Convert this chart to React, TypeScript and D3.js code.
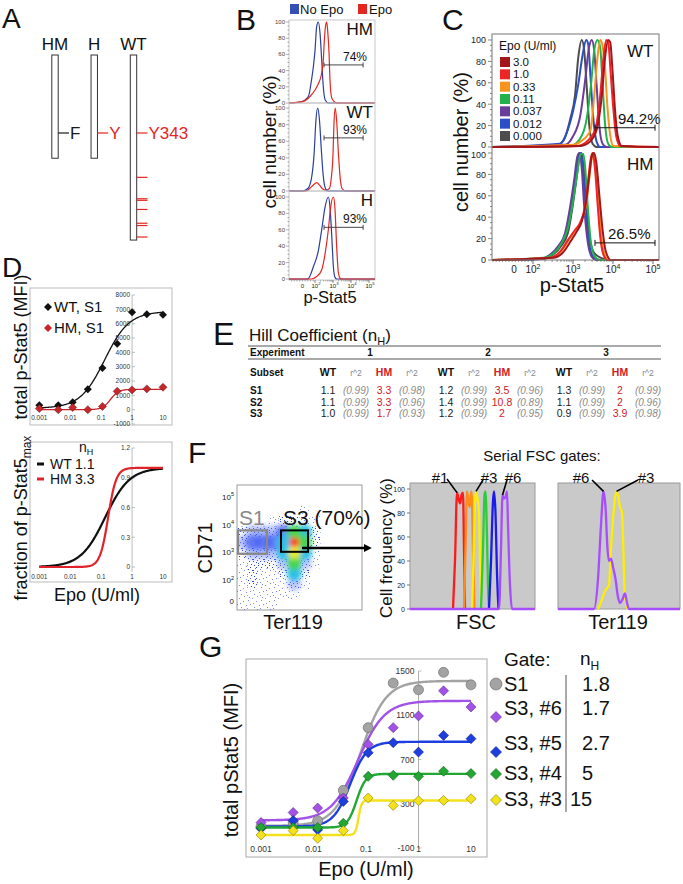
import React from "react";
import * as d3 from "d3";

const FONT = "'Liberation Sans', Arial, Helvetica, sans-serif";

// ---------- A: receptor constructs ----------
const aNames = ["HM", "H", "WT"];
const aEnds = [376, 376, 483];
const aSites = ["F", "Y", "Y343"];
const aSiteColors = ["#1a1a1a", "#e3261f", "#e3261f"];
const wtTyrosines = [401, 429, 431, 443, 461, 464, 479];

// ---------- B: histograms, x = log10(p-Stat5) ----------
const bNoEpoHM = [[1.17, 1], [1.63, 8], [1.81, 29], [1.91, 45], [2.0, 65], [2.09, 94], [2.18, 100], [2.28, 86], [2.37, 53], [2.46, 20], [2.56, 4], [2.74, 0]];
const bEpoHM = [[1.35, 2], [1.72, 8], [2.0, 16], [2.19, 24], [2.37, 37], [2.46, 53], [2.52, 78], [2.59, 96], [2.65, 100], [2.7, 90], [2.78, 61], [2.83, 29], [2.93, 6], [3.11, 1], [3.3, 0]];
const bNoEpoWT = [[1.3, 0], [1.6, 3], [1.8, 15], [1.95, 45], [2.05, 85], [2.15, 100], [2.25, 85], [2.35, 50], [2.45, 20], [2.55, 5], [2.7, 0]];
const bEpoWT = [[1.5, 0], [1.8, 5], [2.0, 9], [2.1, 10], [2.25, 7], [2.4, 3], [2.6, 1], [2.8, 3], [2.9, 15], [3.0, 45], [3.05, 80], [3.12, 100], [3.2, 85], [3.3, 45], [3.4, 15], [3.5, 3], [3.7, 0]];
const bNoEpoH = [[1.6, 0], [1.91, 15], [2.19, 35], [2.37, 60], [2.56, 88], [2.74, 100], [2.83, 88], [2.93, 52], [3.02, 15], [3.11, 2], [3.2, 0]];
const bEpoH = [[1.8, 0], [2.09, 3], [2.37, 11], [2.56, 31], [2.74, 60], [2.87, 88], [3.02, 100], [3.11, 85], [3.2, 40], [3.3, 7], [3.39, 1], [3.5, 0]];
const bGates = [47, 64, 63];
const bGateLabels = ["74%", "93%", "93%"];
const bNames = ["HM", "WT", "H"];

// ---------- C: dose series ----------
const cDoses = ["3.0", "1.0", "0.33", "0.11", "0.037", "0.012", "0.000"];
const cColors = ["#a3171b", "#ee2524", "#f7941d", "#22b24c", "#6a3d9a", "#2c4fc8", "#4d4d4d"];
const cWT = [
  [[3.17, 1], [3.42, 5], [3.59, 16], [3.72, 48], [3.8, 83], [3.88, 100], [3.93, 98], [3.99, 70], [4.05, 35], [4.12, 10], [4.22, 1]],
  [[3.09, 1], [3.34, 5], [3.55, 16], [3.68, 48], [3.76, 83], [3.83, 100], [3.88, 98], [3.94, 70], [4.01, 35], [4.08, 10], [4.18, 1]],
  [[3.01, 2], [3.22, 6], [3.34, 10], [3.44, 16], [3.53, 48], [3.61, 83], [3.68, 100], [3.73, 96], [3.8, 74], [3.86, 38], [3.93, 11], [4.01, 1]],
  [[2.93, 1], [3.18, 8], [3.34, 26], [3.45, 58], [3.53, 90], [3.61, 100], [3.68, 93], [3.74, 58], [3.8, 22], [3.88, 3], [3.97, 0]],
  [[2.8, 2], [3.0, 10], [3.18, 29], [3.3, 61], [3.4, 93], [3.47, 100], [3.53, 90], [3.59, 58], [3.66, 19], [3.74, 3], [3.84, 0]],
  [[2.68, 3], [2.84, 13], [3.01, 35], [3.13, 58], [3.24, 86], [3.33, 100], [3.38, 96], [3.44, 64], [3.51, 26], [3.59, 5], [3.68, 0]],
  [[2.55, 1], [2.76, 6], [2.93, 26], [3.05, 48], [3.13, 83], [3.22, 100], [3.28, 90], [3.34, 58], [3.41, 19], [3.49, 3], [3.59, 0]],
];
const cHM = [
  [[2.5, 2], [2.75, 7], [2.95, 18], [3.1, 27], [3.22, 36], [3.33, 55], [3.41, 80], [3.47, 97], [3.52, 100], [3.58, 92], [3.66, 60], [3.74, 28], [3.82, 8], [3.95, 0]],
  [[2.43, 2], [2.68, 8], [2.88, 19], [3.05, 28], [3.18, 35], [3.3, 50], [3.38, 75], [3.44, 94], [3.49, 100], [3.55, 85], [3.62, 50], [3.68, 22], [3.76, 5], [3.86, 0]],
  [[2.45, 2], [2.7, 8], [2.9, 19], [3.07, 28], [3.2, 36], [3.33, 52], [3.41, 77], [3.47, 95], [3.52, 100], [3.58, 85], [3.65, 50], [3.71, 22], [3.79, 5], [3.9, 0]],
  [[2.26, 2], [2.51, 6], [2.72, 16], [2.88, 31], [3.01, 57], [3.11, 82], [3.19, 99], [3.26, 99], [3.32, 79], [3.38, 44], [3.45, 16], [3.55, 3], [3.68, 0]],
  [[2.18, 1], [2.43, 5], [2.63, 13], [2.8, 25], [2.93, 50], [3.03, 75], [3.11, 97], [3.16, 100], [3.22, 85], [3.28, 50], [3.36, 19], [3.47, 3], [3.59, 0]],
  [[2.2, 1], [2.45, 5], [2.66, 13], [2.83, 26], [2.96, 52], [3.06, 78], [3.13, 97], [3.19, 100], [3.25, 84], [3.31, 48], [3.39, 18], [3.5, 3], [3.62, 0]],
  [[2.25, 1], [2.5, 5], [2.7, 13], [2.87, 25], [2.99, 50], [3.09, 77], [3.16, 96], [3.21, 100], [3.27, 85], [3.33, 52], [3.41, 22], [3.52, 7], [3.7, 2], [3.85, 0]],
];
const cGates = [18, 16];
const cGateLabels = ["94.2%", "26.5%"];

// ---------- D: dose response ----------
const doses = [0.001, 0.0041, 0.012, 0.037, 0.11, 0.33, 1, 3, 10];
const dWT = [300, 300, 520, 1420, 2900, 4600, 6800, 6650, 6620];
const dHM = [80, 0, 150, 0, 220, 1280, 1380, 1450, 1560];
const dFitWT = { base: 100, top: 6850, ec50: 0.13, n: 1.1 };
const dFitHM = { base: 0, top: 1420, ec50: 0.2, n: 3.3 };
const dFracWT = { base: 0, top: 1, ec50: 0.135, n: 1.1 };
const dFracHM = { base: 0, top: 1, ec50: 0.168, n: 3.3 };

// ---------- E: Hill coefficient table ----------
const eExperiments = ["1", "2", "3"];
const eSubsets = ["S1", "S2", "S3"];
const eWT = [["1.1", "1.2", "1.3"], ["1.1", "1.4", "1.1"], ["1.0", "1.2", "0.9"]];
const eWTr2 = [["0.99", "0.99", "0.99"], ["0.99", "0.99", "0.99"], ["0.99", "0.99", "0.99"]];
const eHM = [["3.3", "3.5", "2"], ["3.3", "10.8", "2"], ["1.7", "2", "3.9"]];
const eHMr2 = [["0.98", "0.96", "0.99"], ["0.96", "0.89", "0.96"], ["0.93", "0.95", "0.98"]];

// ---------- F: gating ----------
const scatterDensity = [
  "000000000000",
  "000000000000",
  "000000100000",
  "000122110000",
  "233346520000",
  "344459620000",
  "233357510000",
  "122236310000",
  "121125200000",
  "121113100000",
  "111111000000",
  "111100000000",
];
const fscColors = ["#ff1a1a", "#ff8c1a", "#ffee00", "#2ecc3a", "#1a1aee", "#a64dff"];
const fscHists = [
  [[86, 0], [90, 40], [94, 97], [97, 92], [100, 88], [103, 95], [106, 97], [108, 50], [110, 0]],
  [[108, 0], [111, 50], [114, 98], [117, 90], [119, 85], [121, 93], [123, 98], [126, 50], [129, 0]],
  [[124, 0], [127, 40], [130, 90], [132, 98], [135, 92], [138, 80], [140, 40], [142, 0]],
  [[142, 0], [146, 50], [149, 95], [151, 98], [154, 60], [156, 20], [158, 0]],
  [[158, 0], [162, 40], [166, 90], [168, 98], [171, 80], [174, 30], [177, 0]],
  [[178, 0], [182, 50], [185, 95], [188, 92], [191, 93], [194, 98], [196, 70], [200, 20], [204, 0]],
];
const terYellow = [[80, 0], [88, 8], [94, 15], [102, 20], [106, 50], [111, 80], [117, 98], [121, 92], [124, 85], [128, 80], [131, 45], [133, 15], [137, 3], [140, 0]];
const terPurple = [[72, 0], [80, 25], [86, 70], [91, 98], [95, 85], [99, 50], [102, 40], [106, 42], [110, 35], [115, 25], [120, 10], [124, 5], [129, 8], [134, 13], [138, 5], [142, 0]];

// ---------- G: gated dose response ----------
const gNames = ["S1", "S3, #6", "S3, #5", "S3, #4", "S3, #3"];
const gNH = ["1.8", "1.7", "2.7", "5", "15"];
const gColors = ["#a3a3a3", "#a252e6", "#1d3fe0", "#22a832", "#f3e21b"];
const gStroke = ["#666", "#5a2a8a", "#0d1f80", "#0f5a18", "#8a7a00"];
const gValues = [
  [94, 129, 147, 421, 988, 1391, 1330, 1488, 1375],
  [130, 221, 261, 352, 836, 988, 1094, 1321, 1175],
  [79, 148, 64, 321, 761, 852, 767, 918, 888],
  [85, 85, 85, 124, 548, 557, 548, 594, 573],
  [18, 57, -12, 57, 352, 285, 327, 330, 345],
];
const gFits = [
  { base: 100, top: 1410, ec50: 0.078, n: 1.8 },
  { base: 150, top: 1230, ec50: 0.07, n: 1.7 },
  { base: 95, top: 860, ec50: 0.05, n: 2.7 },
  { base: 85, top: 570, ec50: 0.066, n: 5 },
  { base: 18, top: 330, ec50: 0.072, n: 15 },
];

const diamond = (r: number) => `M0,${-r}L${r},0L0,${r}L${-r},0Z`;

function hillPath(p: any, x: any, y: any) {
  const [l0, l1] = x.domain().map(Math.log10);
  const pts = d3.range(0, 201).map((i) => {
    const c = Math.pow(10, l0 + ((l1 - l0) * i) / 200);
    const f = Math.pow(c, p.n) / (Math.pow(p.ec50, p.n) + Math.pow(c, p.n));
    return [c, p.base + (p.top - p.base) * f];
  });
  return d3.line().x((d: any) => x(d[0])).y((d: any) => y(d[1]))(pts as any);
}

function histPath(data: number[][], x: any, y: any, pad = true) {
  const [a, b] = x.domain();
  const pts = pad ? [[a, 0], ...data, [b, 0]] : data;
  return d3.line().x((d: any) => x(d[0])).y((d: any) => y(d[1])).curve(d3.curveMonotoneX)(pts as any);
}

function T(props: any) {
  const { children, ...rest } = props;
  return (
    <text fontFamily={FONT} fill="#111" {...rest}>
      {children}
    </text>
  );
}

function Pow({ x, y, e, fs, anchor = "middle", fill = "#222" }: any) {
  return (
    <T x={x} y={y} fontSize={fs} textAnchor={anchor} fill={fill}>
      10
      <tspan dy={-fs * 0.45} fontSize={fs * 0.7}>
        {e}
      </tspan>
    </T>
  );
}

function PanelA() {
  const x = d3.scalePoint().domain(aNames).range([55, 133.5]);
  const y = d3.scaleLinear().domain([343, 479]).range([133, 237]);
  const top = 241;
  return (
    <g>
      <T x={2} y={28} fontSize={28}>A</T>
      {aNames.map((n, i) => {
        const cx = x(n) as number;
        return (
          <g key={n}>
            <T x={cx} y={50} fontSize={17} textAnchor="middle">{n}</T>
            <rect x={cx - 3.2} y={y(top)} width={6.4} height={y(aEnds[i]) - y(top)} fill="#fff" stroke="#333" strokeWidth={1} />
            <line x1={cx + 3.2} x2={cx + 14} y1={y(343)} y2={y(343)} stroke={aSiteColors[i]} strokeWidth={1.2} />
            <T x={cx + 15} y={y(343) + 6} fontSize={17} fill={aSiteColors[i]}>{aSites[i]}</T>
          </g>
        );
      })}
      {wtTyrosines.map((r) => (
        <line key={r} x1={(x("WT") as number) + 3.2} x2={(x("WT") as number) + 14} y1={y(r)} y2={y(r)} stroke="#e3261f" strokeWidth={1.2} />
      ))}
    </g>
  );
}

function PanelB() {
  const x = d3.scaleLinear().domain([0.556, 5.33]).range([289, 375]);
  const blue = "#2b3f9c";
  const red = "#e3261f";
  const subs = [
    { rng: [103, 22], top: 20, bottom: 103, series: [[blue, bNoEpoHM], [red, bEpoHM]] },
    { rng: [191, 108], top: 103, bottom: 191, series: [[red, bEpoWT], [blue, bNoEpoWT]] },
    { rng: [279, 197], top: 191, bottom: 280, series: [[blue, bNoEpoH], [red, bEpoH]] },
  ];
  const minor: number[] = [];
  for (let k = 2; k <= 4; k++) for (let m = 2; m <= 9; m++) minor.push(k + Math.log10(m));
  for (let v = 0.7; v < 2; v += 0.15) minor.push(v);
  return (
    <g>
      <T x={236} y={30} fontSize={30}>B</T>
      <rect x={290} y={4} width={9} height={10} fill="#3550b5" />
      <T x={300} y={14} fontSize={13}>No Epo</T>
      <rect x={358} y={4} width={9} height={10} fill="#e3261f" />
      <T x={369} y={14} fontSize={13}>Epo</T>
      {subs.map((s, i) => {
        const y = d3.scaleLinear().domain([0, 100]).range(s.rng);
        return (
          <g key={i}>
            <rect x={289} y={s.top} width={86} height={s.bottom - s.top} fill="none" stroke="#c8c8c8" />
            {d3.range(0, 101, 5).map((t) => (
              <line key={t} x1={289} x2={t % 20 === 0 ? 286 : 287.5} y1={y(t)} y2={y(t)} stroke="#777" strokeWidth={0.6} />
            ))}
            {d3.range(0, 101, 20).map((t) => (
              <T key={t} x={285} y={y(t) + 2} fontSize={6} textAnchor="end" fill="#444">{t}</T>
            ))}
            {s.series.map(([c, d]: any, j) => (
              <path key={j} d={histPath(d, x, y) as string} fill="none" stroke={c} strokeWidth={1.2} />
            ))}
            <line x1={x(2.5)} x2={x(4.67)} y1={y(bGates[i])} y2={y(bGates[i])} stroke="#333" strokeWidth={0.9} />
            <line x1={x(2.5)} x2={x(2.5)} y1={y(bGates[i]) - 2.5} y2={y(bGates[i]) + 2.5} stroke="#333" strokeWidth={0.9} />
            <line x1={x(4.67)} x2={x(4.67)} y1={y(bGates[i]) - 2.5} y2={y(bGates[i]) + 2.5} stroke="#333" strokeWidth={0.9} />
            <T x={355} y={y(bGates[i]) - 4} fontSize={12} textAnchor="middle">{bGateLabels[i]}</T>
            <T x={373} y={s.top + 15} fontSize={17} textAnchor="end">{bNames[i]}</T>
          </g>
        );
      })}
      {minor.map((m, i) => (
        <line key={i} x1={x(m)} x2={x(m)} y1={280} y2={281.5} stroke="#666" strokeWidth={0.5} />
      ))}
      {[2, 3, 4, 5].map((k) => (
        <line key={k} x1={x(k)} x2={x(k)} y1={280} y2={283} stroke="#555" strokeWidth={0.7} />
      ))}
      <T x={x(1.3)} y={287.5} fontSize={6} textAnchor="middle" fill="#222">0</T>
      {[2, 3, 4, 5].map((k) => (
        <Pow key={k} x={x(k) + 1} y={287.5} e={k} fs={6} />
      ))}
      <T x={330} y={303} fontSize={16.5} textAnchor="middle">p-Stat5</T>
      <T transform="translate(276,142) rotate(-90)" fontSize={19} textAnchor="middle">cell number (%)</T>
    </g>
  );
}

function PanelC() {
  const x = d3.scaleLinear().domain([0.975, 5.15]).range([492, 659]);
  const subs = [
    { rng: [147, 40], top: 34, bottom: 147, data: cWT, name: "WT" },
    { rng: [260, 153], top: 147, bottom: 260, data: cHM, name: "HM" },
  ];
  const minor: number[] = [];
  for (let k = 2; k <= 4; k++) for (let m = 2; m <= 9; m++) minor.push(k + Math.log10(m));
  for (let v = 1.0; v < 2; v += 0.08) minor.push(v);
  const legendRow = d3.scalePoint().domain(cDoses).range([57, 131]);
  return (
    <g>
      <T x={442} y={30} fontSize={30}>C</T>
      {subs.map((s, i) => {
        const y = d3.scaleLinear().domain([0, 100]).range(s.rng);
        const order = [6, 5, 4, 3, 2, 1, 0];
        return (
          <g key={s.name}>
            {d3.range(0, 101, 5).map((t) => (
              <line key={t} x1={492} x2={t % 20 === 0 ? 488 : 490} y1={y(t)} y2={y(t)} stroke="#555" strokeWidth={0.7} />
            ))}
            {d3.range(0, 101, 20).map((t) => (
              <T key={t} x={486} y={y(t) + (i === 0 && t === 0 ? 0.5 : i === 1 && t === 100 ? 5 : 3.3)} fontSize={9} textAnchor="end" fill="#222">{t}</T>
            ))}
            {order.map((k) => (
              <path key={k} d={histPath(s.data[k], x, y) as string} fill="none" stroke={cColors[k]} strokeWidth={2} strokeLinejoin="round" />
            ))}
            <line x1={x(3.55)} x2={x(5.05)} y1={y(cGates[i])} y2={y(cGates[i])} stroke="#111" strokeWidth={1} />
            <line x1={x(3.55)} x2={x(3.55)} y1={y(cGates[i]) - 3} y2={y(cGates[i]) + 3} stroke="#111" strokeWidth={1} />
            <line x1={x(5.05)} x2={x(5.05)} y1={y(cGates[i]) - 3} y2={y(cGates[i]) + 3} stroke="#111" strokeWidth={1} />
            <T x={i === 0 ? 618 : 608} y={y(cGates[i]) - 4} fontSize={15}>{cGateLabels[i]}</T>
            <T x={627} y={s.top + 23} fontSize={17}>{s.name}</T>
          </g>
        );
      })}
      <rect x={492} y={34} width={167} height={226} fill="none" stroke="#777" strokeWidth={1} />
      {minor.map((m, i) => (
        <line key={i} x1={x(m)} x2={x(m)} y1={260} y2={262} stroke="#555" strokeWidth={0.6} />
      ))}
      {[2, 3, 4, 5].map((k) => (
        <line key={k} x1={x(k)} x2={x(k)} y1={260} y2={264} stroke="#444" strokeWidth={0.8} />
      ))}
      <T x={x(1.525)} y={273} fontSize={10} textAnchor="middle" fill="#222">0</T>
      {[2, 3, 4, 5].map((k) => (
        <Pow key={k} x={x(k)} y={273} e={k} fs={10} />
      ))}
      <T x={572} y={292} fontSize={20} textAnchor="middle">p-Stat5</T>
      <T transform="translate(468,142) rotate(-90)" fontSize={20} textAnchor="middle">cell number (%)</T>
      <T x={499} y={50} fontSize={12}>Epo (U/ml)</T>
      {cDoses.map((d, i) => (
        <g key={d}>
          <rect x={500} y={legendRow(d)} width={10} height={10} fill={cColors[i]} />
          <T x={513} y={(legendRow(d) as number) + 9} fontSize={11.5}>{d}</T>
        </g>
      ))}
    </g>
  );
}

function PanelD() {
  const x = d3.scaleLog().domain([0.001, 10]).range([39.3, 163]);
  const yT = d3.scaleLinear().domain([-1000, 8000]).range([424, 295]);
  const yB = d3.scaleLinear().domain([0, 1.2]).range([567, 448]);
  const ax = x(1);
  const xLabels = [0.001, 0.01, 0.1, 1, 10];
  const red = "#c8262b";
  return (
    <g>
      <T x={2} y={277} fontSize={28}>D</T>
      {/* top */}
      <rect x={30} y={288} width={142} height={137} fill="#fff" stroke="#bbb" />
      <line x1={ax} x2={ax} y1={yT(8000)} y2={yT(-1000)} stroke="#aaa" strokeWidth={0.8} />
      {d3.range(-1000, 8001, 1000).map((t) => (
        <g key={t}>
          <line x1={ax} x2={ax + 3} y1={yT(t)} y2={yT(t)} stroke="#999" strokeWidth={0.6} />
          <T x={ax - 2} y={yT(t) + 2.3} fontSize={6.5} textAnchor="end" fill="#333">{t}</T>
        </g>
      ))}
      {xLabels.map((v) => (
        <T key={v} x={x(v)} y={420} fontSize={6.5} textAnchor="middle" fill="#333">{v}</T>
      ))}
      <path d={hillPath(dFitWT, x, yT) as string} fill="none" stroke="#111" strokeWidth={1.3} />
      <path d={hillPath(dFitHM, x, yT) as string} fill="none" stroke={red} strokeWidth={1.3} />
      {doses.map((c, i) => (
        <path key={"w" + i} transform={`translate(${x(c)},${yT(dWT[i])})`} d={diamond(4)} fill="#111" />
      ))}
      {doses.map((c, i) => (
        <path key={"h" + i} transform={`translate(${x(c)},${yT(dHM[i])})`} d={diamond(4)} fill={red} stroke="#5a1010" strokeWidth={0.5} />
      ))}
      <path transform="translate(48,307)" d={diamond(4)} fill="#111" />
      <T x={54} y={312} fontSize={15}>WT, S1</T>
      <path transform="translate(48,328)" d={diamond(4)} fill={red} />
      <T x={54} y={333} fontSize={15}>HM, S1</T>
      <T transform="translate(27,347) rotate(-90)" fontSize={18} textAnchor="middle">total p-Stat5 (MFI)</T>
      {/* bottom */}
      <rect x={30} y={442} width={142} height={140} fill="#fff" stroke="#bbb" />
      <line x1={ax} x2={ax} y1={yB(1.2)} y2={yB(0) + 5} stroke="#aaa" strokeWidth={0.8} />
      {[0, 0.3, 0.6, 0.9, 1.2].map((t) => (
        <g key={t}>
          <line x1={ax} x2={ax + 3} y1={yB(t)} y2={yB(t)} stroke="#999" strokeWidth={0.6} />
          <T x={ax - 2} y={yB(t) + 2.3} fontSize={6.5} textAnchor="end" fill="#333">{t}</T>
        </g>
      ))}
      {xLabels.map((v) => (
        <T key={v} x={x(v)} y={579} fontSize={6.5} textAnchor="middle" fill="#333">{v}</T>
      ))}
      <path d={hillPath(dFracWT, x, yB) as string} fill="none" stroke="#111" strokeWidth={2.2} />
      <path d={hillPath(dFracHM, x, yB) as string} fill="none" stroke="#e0232a" strokeWidth={2.2} />
      <T x={79} y={452} fontSize={14}>n<tspan dy={3} fontSize={9}>H</tspan></T>
      <line x1={37} x2={44} y1={464} y2={464} stroke="#111" strokeWidth={3} />
      <T x={50} y={469} fontSize={14}>WT</T>
      <T x={75} y={469} fontSize={14}>1.1</T>
      <line x1={37} x2={44} y1={479} y2={479} stroke="#e0232a" strokeWidth={3} />
      <T x={50} y={484} fontSize={14}>HM</T>
      <T x={75} y={484} fontSize={14}>3.3</T>
      <T transform="translate(27,518) rotate(-90)" fontSize={18} textAnchor="middle">
        fraction of p-Stat5<tspan dy={4} fontSize={12}>max</tspan>
      </T>
      <T x={97} y={601} fontSize={18} textAnchor="middle">Epo (U/ml)</T>
    </g>
  );
}

function PanelE() {
  const gx = d3.scalePoint().domain(eExperiments).range([328, 564]);
  const off = [0, 28, 56, 84];
  const rowY = d3.scalePoint().domain(eSubsets).range([394, 417]);
  const red = "#d42027";
  return (
    <g>
      <T x={213} y={345} fontSize={32}>E</T>
      <T x={249} y={341} fontSize={17}>
        Hill Coefficient (n<tspan dy={4} fontSize={11}>H</tspan><tspan dy={-4}>)</tspan>
      </T>
      <line x1={248} x2={661} y1={346} y2={346} stroke="#555" strokeWidth={1} />
      <line x1={248} x2={661} y1={359} y2={359} stroke="#555" strokeWidth={1} />
      <T x={250} y={356} fontSize={10} fontWeight="bold">Experiment</T>
      <T x={250} y={376} fontSize={10} fontWeight="bold">Subset</T>
      {eExperiments.map((e) => {
        const g = gx(e) as number;
        return (
          <g key={e}>
            <T x={g + 42} y={356} fontSize={10} fontWeight="bold" textAnchor="middle">{e}</T>
            <T x={g + off[0]} y={376} fontSize={10.5} fontWeight="bold" textAnchor="middle">WT</T>
            <T x={g + off[1]} y={376} fontSize={8.5} textAnchor="middle" fill="#888">r^2</T>
            <T x={g + off[2]} y={376} fontSize={10.5} fontWeight="bold" textAnchor="middle" fill={red}>HM</T>
            <T x={g + off[3]} y={376} fontSize={8.5} textAnchor="middle" fill="#888">r^2</T>
          </g>
        );
      })}
      {eSubsets.map((s, r) => (
        <g key={s}>
          <T x={250} y={rowY(s)} fontSize={10} fontWeight="bold">{s}</T>
          {eExperiments.map((e, c) => {
            const g = gx(e) as number;
            const y = rowY(s) as number;
            return (
              <g key={e}>
                <T x={g + off[0]} y={y} fontSize={10.5} textAnchor="middle" fill="#222">{eWT[r][c]}</T>
                <T x={g + off[1]} y={y} fontSize={10} textAnchor="middle" fill="#8a8a8a" fontStyle="italic">({eWTr2[r][c]})</T>
                <T x={g + off[2]} y={y} fontSize={10.5} textAnchor="middle" fill={red}>{eHM[r][c]}</T>
                <T x={g + off[3]} y={y} fontSize={10} textAnchor="middle" fill="#8a8a8a" fontStyle="italic">({eHMr2[r][c]})</T>
              </g>
            );
          })}
        </g>
      ))}
    </g>
  );
}

function PanelF() {
  // scatter
  const sx = d3.scaleLinear().domain([0, 125]).range([237, 362]);
  const sy = d3.scaleLinear().domain([0.93, 5.42]).range([610, 485]);
  const cols = d3.scaleBand().domain(d3.range(12) as any).range([237, 362]);
  const rows = d3.scaleBand().domain(d3.range(12) as any).range([485, 610]);
  const dens = ["#fff", "#6f86ff", "#3d5cff", "#6c84ff", "#3452f2", "#2cc0e6", "#44d64c", "#e8e820", "#ff9a1a", "#ff3010"];
  const densOpacity = [0, 0, 0, 0.45, 0.75, 1, 1, 1, 1, 1];
  const densR = [0, 0, 0, 0.7, 0.75, 0.72, 0.7, 0.62, 0.55, 0.48];
  const cells: any[] = [];
  scatterDensity.forEach((row, r) =>
    row.split("").forEach((ch, c) => {
      const v = +ch;
      if (v > 0) cells.push({ r, c, v });
    })
  );
  const bw = cols.bandwidth();
  // FSC histograms
  const hx = d3.scaleLinear().domain([0, 250]).range([410, 535]);
  const tx = d3.scaleLinear().domain([0, 244]).range([558, 680]);
  const hy = d3.scaleLinear().domain([0, 100]).range([609, 489]);
  return (
    <g>
      <defs>
        <pattern id="speck" width="13" height="13" patternUnits="userSpaceOnUse">
          {[[1, 2], [5, 0], [9, 3], [12, 7], [3, 6], [7, 9], [10, 11], [0, 10], [6, 5], [2, 12]].map(([a, b], i) => (
            <rect key={i} x={a} y={b} width="1" height="1" fill="#2f4cf0" />
          ))}
        </pattern>
        <pattern id="speck2" width="11" height="11" patternUnits="userSpaceOnUse">
          {[[0, 0], [3, 1], [7, 0], [9, 3], [1, 4], [5, 4], [8, 6], [2, 7], [6, 8], [10, 9], [4, 10], [0, 9], [5, 2], [3, 6]].map(([a, b], i) => (
            <rect key={i} x={a} y={b} width="1" height="1" fill="#2a44ee" />
          ))}
        </pattern>
        <filter id="soft" x="-20%" y="-20%" width="140%" height="140%">
          <feGaussianBlur stdDeviation="2.8" />
        </filter>
        <clipPath id="scClip">
          <rect x={237} y={485} width={125} height={125} />
        </clipPath>
        <marker id="arrowhead" viewBox="0 0 10 10" refX="3" refY="5" markerWidth="3.2" markerHeight="3.2" orient="auto">
          <path d="M0,0L10,5L0,10Z" fill="#000" />
        </marker>
      </defs>
      <T x={188} y={463} fontSize={30}>F</T>
      <T x={542} y={461} fontSize={15} textAnchor="middle">Serial FSC gates:</T>
      <rect x={237} y={485} width={125} height={125} fill="#fff" stroke="#999" />
      <g clipPath="url(#scClip)">
        {cells.filter((d) => d.v <= 3).map((d, i) => (
          <rect key={"s" + i} x={cols(d.c)} y={rows(d.r)} width={bw} height={rows.bandwidth()} fill={d.v >= 2 ? "url(#speck2)" : "url(#speck)"} opacity={d.v === 1 ? 0.65 : 1} />
        ))}
        <g filter="url(#soft)">
          {cells.filter((d) => d.v >= 3).sort((a, b) => a.v - b.v).map((d, i) => (
            <circle key={"d" + i} cx={(cols(d.c) as number) + bw / 2} cy={(rows(d.r) as number) + rows.bandwidth() / 2} r={bw * densR[d.v]} fill={dens[d.v]} opacity={densOpacity[d.v]} />
          ))}
        </g>
      </g>
      <rect x={sx(1)} y={sy(3.79)} width={sx(30) - sx(1)} height={sy(2.95) - sy(3.79)} fill="none" stroke="#888" strokeWidth={2.2} />
      <rect x={sx(44)} y={sy(3.79)} width={sx(71) - sx(44)} height={sy(3.02) - sy(3.79)} fill="none" stroke="#000" strokeWidth={2} />
      <line x1={sx(65)} x2={366} y1={548} y2={548} stroke="#000" strokeWidth={2.6} markerEnd="url(#arrowhead)" />
      <T x={239} y={525} fontSize={21} fill="#888">S1</T>
      <T x={283} y={525} fontSize={21}>S3 (70%)</T>
      {[2, 3, 4, 5].map((k) => (
        <Pow key={k} x={234} y={sy(k) + 3} e={k} fs={8} anchor="end" />
      ))}
      <T x={234} y={sy(1.26) + 3} fontSize={8} textAnchor="end" fill="#222">0</T>
      <T transform="translate(212,548) rotate(-90)" fontSize={20} textAnchor="middle">CD71</T>
      <T x={293} y={629} fontSize={20} textAnchor="middle">Ter119</T>

      {/* FSC histogram */}
      <rect x={410} y={483} width={125} height={126} fill="#c9c9c9" stroke="#9a9a9a" />
      {d3.range(0, 101, 20).map((t) => (
        <g key={t}>
          <line x1={410} x2={407} y1={hy(t)} y2={hy(t)} stroke="#444" strokeWidth={0.7} />
          <T x={405} y={hy(t) + 2.5} fontSize={7} textAnchor="end" fill="#222">{t}</T>
        </g>
      ))}
      {fscHists.map((d, i) => (
        <path key={i} d={histPath(d, hx, hy, i === 5) as string} fill="none" stroke={fscColors[i]} strokeWidth={2.3} strokeLinejoin="round" />
      ))}
      <T transform="translate(392,548) rotate(-90)" fontSize={17} textAnchor="middle">Cell frequency (%)</T>
      <T x={476} y={629} fontSize={20} textAnchor="middle">FSC</T>
      <line x1={447} x2={hx(94)} y1={479} y2={hy(97)} stroke="#000" strokeWidth={1.6} />
      <T x={440} y={483} fontSize={15} textAnchor="middle">#1</T>
      <line x1={483} x2={hx(132)} y1={480} y2={hy(98)} stroke="#000" strokeWidth={1.6} />
      <T x={489} y={483} fontSize={15} textAnchor="middle">#3</T>
      <line x1={507} x2={hx(185)} y1={480} y2={hy(95)} stroke="#000" strokeWidth={1.6} />
      <T x={513} y={483} fontSize={15} textAnchor="middle">#6</T>

      {/* Ter119 histogram */}
      <rect x={558} y={483} width={122} height={126} fill="#c9c9c9" stroke="#9a9a9a" />
      <path d={histPath(terYellow, tx, hy, false) as string} fill="none" stroke="#ffee00" strokeWidth={2.3} strokeLinejoin="round" />
      <path d={histPath(terPurple, tx, hy) as string} fill="none" stroke="#a64dff" strokeWidth={2.3} strokeLinejoin="round" />
      <line x1={592} x2={tx(91)} y1={480} y2={hy(98)} stroke="#000" strokeWidth={1.6} />
      <T x={581} y={483} fontSize={15} textAnchor="middle">#6</T>
      <line x1={638} x2={tx(117)} y1={480} y2={hy(98)} stroke="#000" strokeWidth={1.6} />
      <T x={646} y={483} fontSize={15} textAnchor="middle">#3</T>
      <T x={618} y={629} fontSize={20} textAnchor="middle">Ter119</T>
    </g>
  );
}

function PanelG() {
  const x = d3.scaleLog().domain([0.001, 10]).range([261, 471]);
  const y = d3.scaleLinear().domain([-100, 1500]).range([848, 671]);
  const legendY = [691, 715, 750, 780, 806];
  return (
    <g>
      <T x={199} y={657} fontSize={30}>G</T>
      <rect x={246} y={659} width={241} height={198} fill="#fff" stroke="#aaa" />
      <line x1={x(1)} x2={x(1)} y1={y(1500)} y2={y(-100) - 1} stroke="#999" strokeWidth={0.8} />
      {[1500, 1100, 700, 300, -100].map((t) => (
        <g key={t}>
          <line x1={x(1)} x2={x(1) + 3} y1={y(t)} y2={y(t)} stroke="#999" strokeWidth={0.6} />
          <T x={x(1) - 4} y={y(t) + 3} fontSize={8.5} textAnchor="end" fill="#333">{t}</T>
        </g>
      ))}
      {[0.001, 0.01, 0.1, 1, 10].map((v) => (
        <T key={v} x={x(v)} y={852} fontSize={8.5} textAnchor="middle" fill="#333">{v}</T>
      ))}
      {gFits.map((p, i) => (
        <path key={i} d={hillPath(p, x, y) as string} fill="none" stroke={gColors[i]} strokeWidth={2.4} />
      ))}
      {gValues.map((vals, i) =>
        vals.map((v, j) =>
          i === 0 ? (
            <circle key={i + "-" + j} cx={x(doses[j])} cy={y(v)} r={5} fill={gColors[i]} stroke={gStroke[i]} strokeWidth={0.6} />
          ) : (
            <path key={i + "-" + j} transform={`translate(${x(doses[j])},${y(v)})`} d={diamond(5)} fill={gColors[i]} stroke={gStroke[i]} strokeWidth={0.6} />
          )
        )
      )}
      <T transform="translate(238,760) rotate(-90)" fontSize={20} textAnchor="middle">total pStat5 (MFI)</T>
      <T x={366} y={876} fontSize={20} textAnchor="middle">Epo (U/ml)</T>
      <T x={504} y={666} fontSize={19}>Gate:</T>
      <T x={580} y={665} fontSize={19}>n<tspan dy={5} fontSize={12}>H</tspan></T>
      <line x1={566} x2={566} y1={675} y2={812} stroke="#555" strokeWidth={1} />
      {gNames.map((n, i) => (
        <g key={n}>
          {i === 0 ? (
            <circle cx={496} cy={legendY[i] - 7} r={6} fill={gColors[i]} stroke={gStroke[i]} strokeWidth={0.6} />
          ) : (
            <path transform={`translate(496,${legendY[i] + (i < 3 ? 2 : -6)})`} d={diamond(5.5)} fill={gColors[i]} stroke={gStroke[i]} strokeWidth={0.6} />
          )}
          <T x={504} y={legendY[i]} fontSize={20}>{n}</T>
          <T x={n === "S3, #3" ? 570 : 582} y={legendY[i]} fontSize={20}>{gNH[i]}</T>
        </g>
      ))}
    </g>
  );
}

export default function App() {
  return (
    <svg width={683} height={884} viewBox="0 0 683 884" style={{ position: "absolute", left: 0, top: 0, background: "#fff" }}>
      <rect width={683} height={884} fill="#fff" />
      <PanelA />
      <PanelB />
      <PanelC />
      <PanelD />
      <PanelE />
      <PanelF />
      <PanelG />
    </svg>
  );
}
